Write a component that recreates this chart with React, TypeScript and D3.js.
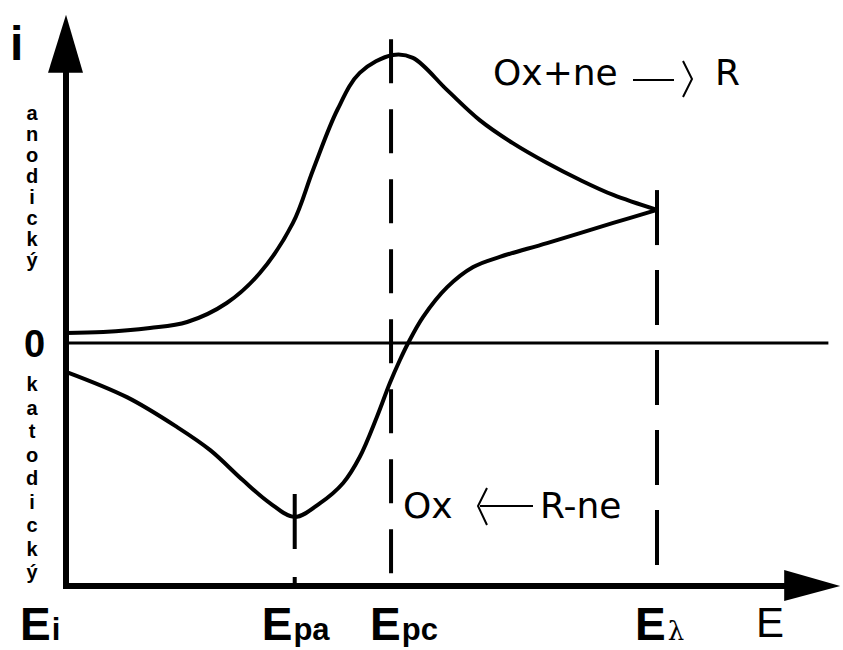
import * as d3 from 'd3'

const W = 843
const H = 650

// potential in units where Ei = 0 and Eλ = 1, current scaled so the anodic peak = 1
const forwardE = [0, 0.063, 0.142, 0.205, 0.272, 0.328, 0.384, 0.418, 0.459, 0.497, 0.553, 0.587, 0.645, 0.7, 0.756, 0.814, 0.87, 0.926, 1.0]
const forwardI = [0.035, 0.038, 0.052, 0.073, 0.139, 0.243, 0.417, 0.601, 0.809, 0.938, 1.0, 0.99, 0.878, 0.774, 0.694, 0.625, 0.566, 0.514, 0.462]

const reverseE = [1.0, 0.926, 0.814, 0.734, 0.689, 0.645, 0.604, 0.579, 0.565, 0.548, 0.526, 0.497, 0.469, 0.43, 0.387, 0.345, 0.299, 0.244, 0.188, 0.103, 0]
const reverseI = [0.462, 0.417, 0.347, 0.299, 0.264, 0.194, 0.09, 0, -0.059, -0.139, -0.257, -0.396, -0.486, -0.556, -0.604, -0.556, -0.476, -0.372, -0.292, -0.188, -0.1]

// marked potentials on the E axis
const markerBase = ['E', 'E', 'E', 'E']
const markerSub = ['i', 'pa', 'pc', 'λ']
const markerE = [0, 0.387, 0.55, 1.0]
// where each dashed guide starts (current) and its dash pattern
const guideTop = [null, -0.524, 1.055, 0.531]
const guideDash = ['', '55 28', '44 26', '55 25']
const labelShift = [-46, -33, -21, -22]

const anodic = 'anodický'.split('')
const cathodic = 'katodický'.split('')

const font = '"Liberation Sans", Arial, sans-serif'
const font2 = '"DejaVu Sans", Verdana, sans-serif'

export default function App() {
  const x = d3.scaleLinear().domain([0, 1]).range([66, 657])
  const y = d3.scaleLinear().domain([0, 1]).range([343, 55])
  const eMax = 1.31
  const iMax = 1.14
  const iMin = -0.844

  const line = d3.line<number>()
    .x(d => x(d[0]))
    .y(d => y(d[1]))
    .curve(d3.curveCatmullRom.alpha(0.5))

  const fwd = line(forwardE.map((e, k) => [e, forwardI[k]]) as any)
  const rev = line(reverseE.map((e, k) => [e, reverseI[k]]) as any)

  const x0 = x(0)
  const yb = y(iMin)
  const xe = x(eMax)
  const yt = y(iMax)

  return (
    <svg width={W} height={H} style={{ position: 'absolute', left: 0, top: 0, background: '#fff' }}>
      {/* axes */}
      <line x1={x0} y1={yb} x2={x0} y2={yt + 56} stroke="#000" strokeWidth={6} />
      <path d={`M${x0},${yt} L${x0 - 18},${yt + 58} L${x0 + 17},${yt + 58} Z`} fill="#000" />
      <line x1={x0 - 3} y1={yb} x2={xe - 54} y2={yb} stroke="#000" strokeWidth={6} />
      <path d={`M${xe},${yb} L${xe - 56},${yb - 16} L${xe - 56},${yb + 15} Z`} fill="#000" />
      <line x1={x0} y1={y(0)} x2={x(1.29)} y2={y(0)} stroke="#000" strokeWidth={3} />

      {/* dashed guides */}
      {markerE.map((e, k) => guideTop[k] === null ? null : (
        <line key={k} x1={x(e)} y1={y(guideTop[k] as number)} x2={x(e)} y2={yb}
          stroke="#000" strokeWidth={4} strokeDasharray={guideDash[k]} />
      ))}

      {/* voltammogram */}
      <path d={fwd || ''} fill="none" stroke="#000" strokeWidth={4} strokeLinejoin="round" />
      <path d={rev || ''} fill="none" stroke="#000" strokeWidth={4} strokeLinejoin="round" />

      {/* axis labels */}
      <text x={10} y={60} fontFamily={font} fontWeight="bold" fontSize={48}>i</text>
      <text x={24} y={357} fontFamily={font} fontWeight="bold" fontSize={38}>0</text>
      {anodic.map((c, k) => (
        <text key={'a' + k} x={32} y={120 + k * 21} textAnchor="middle" fontFamily={font} fontWeight="bold" fontSize={20}>{c}</text>
      ))}
      {cathodic.map((c, k) => (
        <text key={'c' + k} x={32} y={391 + k * 23.5} textAnchor="middle" fontFamily={font} fontWeight="bold" fontSize={20}>{c}</text>
      ))}

      {markerE.map((e, k) => (
        <text key={'m' + k} x={x(e) + labelShift[k]} y={640} fontFamily={font} fontWeight="bold" fontSize={46}>
          {markerBase[k]}
          {k === 3
            ? <tspan fontFamily='"DejaVu Serif", serif' fontWeight="normal" fontSize={26} dx={2}>{markerSub[k]}</tspan>
            : <tspan fontSize={31} dx={1}>{markerSub[k]}</tspan>}
        </text>
      ))}
      <text x={756} y={637} fontFamily={font} fontSize={42}>E</text>

      {/* reactions */}
      <text x={493} y={85} fontFamily={font2} fontSize={36}>Ox+ne</text>
      <line x1={633} y1={80} x2={674} y2={80} stroke="#000" strokeWidth={2} />
      <polyline points="683,61 692,79 683,97" fill="none" stroke="#000" strokeWidth={2} />
      <text x={715} y={85} fontFamily={font2} fontSize={36}>R</text>

      <text x={403} y={518} fontFamily={font2} fontSize={36}>Ox</text>
      <polyline points="487,488 478,506 487,525" fill="none" stroke="#000" strokeWidth={2} />
      <line x1={480} y1={506} x2={533} y2={506} stroke="#000" strokeWidth={2} />
      <text x={540} y={518} fontFamily={font2} fontSize={36}>R-ne</text>
    </svg>
  )
}
